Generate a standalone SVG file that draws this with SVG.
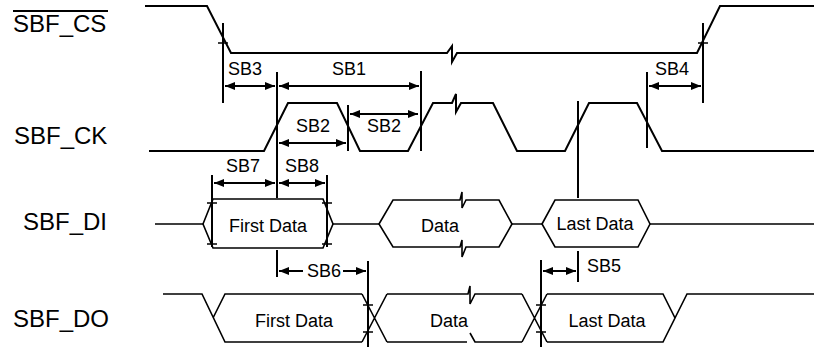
<svg xmlns="http://www.w3.org/2000/svg" width="814" height="347" viewBox="0 0 814 347">
<defs>
<marker id="ah" markerWidth="10" markerHeight="8" refX="10" refY="4" orient="auto-start-reverse" markerUnits="userSpaceOnUse"><path d="M0,0 L10,4 L0,8 z" fill="#000"/></marker>
</defs>
<style>
.sig{fill:none;stroke:#000;stroke-width:2;stroke-linejoin:miter}
.bus{fill:none;stroke:#000;stroke-width:1.6}
.ref{fill:none;stroke:#000;stroke-width:2}
.tick{fill:none;stroke:#000;stroke-width:1.6}
.dim{stroke:#000;stroke-width:2;marker-start:url(#ah);marker-end:url(#ah)}
.one{stroke:#000;stroke-width:2;marker-start:url(#ah)}
.lbl{font-family:"Liberation Sans",Arial,sans-serif;font-size:18px;fill:#000}
.name{font-family:"Liberation Sans",Arial,sans-serif;font-size:24px;fill:#000}
</style>
<rect width="814" height="347" fill="#fff"/>
<g id="names">
<g id="name-cs"><text class="name" x="13" y="32">SBF_CS</text><line x1="13" y1="11" x2="108" y2="11" stroke="#000" stroke-width="2"/></g>
<g id="name-ck"><text class="name" x="14" y="144">SBF_CK</text></g>
<g id="name-di"><text class="name" x="23" y="230">SBF_DI</text></g>
<g id="name-do"><text class="name" x="13" y="327">SBF_DO</text></g>
</g>
<g id="wave-cs"><path class="sig" d="M145,6 H207 L231,53 H447 L452,46 V62 L457,53 H697 L720,6 H814"/></g>
<g id="wave-ck"><path class="sig" d="M149,151 H264 L288,103 H337 L360,151 H408 L433,103 H452 L456,94 V112 L461,103 H493 L517,151 H565 L589,103 H637 L662,151 H814"/></g>
<g id="wave-di">
<path class="bus" d="M155,224 H203 M333,224 H379 M512,224 H542 M650,224 H814"/>
<g id="di-first"><path class="bus" d="M203,224 L213,199 H323 L333,224 L323,248 H213 Z"/><text class="lbl" x="268" y="232" text-anchor="middle">First Data</text></g>
<g id="di-data"><path class="bus" d="M379,224 L393,200 H460 L462,192 V208 L466,200 H499 L512,224 L499,247 H466 L462,257 V240 L460,247 H393 Z"/><text class="lbl" x="440" y="232" text-anchor="middle">Data</text></g>
<g id="di-last"><path class="bus" d="M542,224 L555,200 H638 L650,224 L638,247 H555 Z"/><text class="lbl" x="595" y="230" text-anchor="middle">Last Data</text></g>
</g>
<g id="wave-do">
<g id="do-first"><path class="bus" d="M163,294 H202 L225,342 H362 M213,318 L225,294 H362"/><text class="lbl" x="294" y="327" text-anchor="middle">First Data</text></g>
<path class="bus" d="M362,294 L387,342 M362,342 L387,294 M522,294 L547,342 M522,342 L547,294"/>
<g id="do-data"><path class="bus" d="M387,294 H468 L470,286 V304 L475,294 H522 M387,342 H467 M470,333 L475,342 H522"/><text class="lbl" x="449" y="327" text-anchor="middle">Data</text></g>
<g id="do-last"><path class="bus" d="M547,294 H663 L675,318 L663,342 H547 M675,318 L687,294 H814"/><text class="lbl" x="607" y="327" text-anchor="middle">Last Data</text></g>
</g>
<g id="connectors">
<path class="ref" d="M223,23 V103 M703,23 V103 M277,72 V198 M277,250 V277 M421,71 V151 M647,72 V148 M348,105 V151 M578,101 V198 M578,251 V282 M212,175 V247 M327,175 V247 M368,261 V347 M541,260 V347"/>
<path class="tick" d="M218,43 H228 M698,43 H708 M207,203 H217 M207,244 H217 M322,203 H332 M322,244 H332 M363,305 H373 M363,332 H373 M536,305 H546 M536,332 H546"/>
<line class="dim" x1="225" y1="86" x2="275" y2="86"/>
<line class="dim" x1="279" y1="86" x2="419" y2="86"/>
<line class="dim" x1="649" y1="86" x2="701" y2="86"/>
<line class="dim" x1="279" y1="143" x2="346" y2="143"/>
<line class="dim" x1="350" y1="114" x2="418" y2="114"/>
<line class="dim" x1="214" y1="183" x2="275" y2="183"/>
<line class="dim" x1="279" y1="183" x2="325" y2="183"/>
<line class="one" x1="279" y1="271" x2="303" y2="271"/>
<line class="one" x1="366" y1="271" x2="343" y2="271"/>
<line class="dim" x1="543" y1="271" x2="576" y2="271"/>
<text class="lbl" x="228" y="75">SB3</text>
<text class="lbl" x="349" y="75" text-anchor="middle">SB1</text>
<text class="lbl" x="655" y="75">SB4</text>
<text class="lbl" x="313" y="132" text-anchor="middle">SB2</text>
<text class="lbl" x="384" y="132" text-anchor="middle">SB2</text>
<text class="lbl" x="226" y="172">SB7</text>
<text class="lbl" x="285" y="172">SB8</text>
<text class="lbl" x="307" y="277">SB6</text>
<text class="lbl" x="587" y="272">SB5</text>
</g>
</svg>
